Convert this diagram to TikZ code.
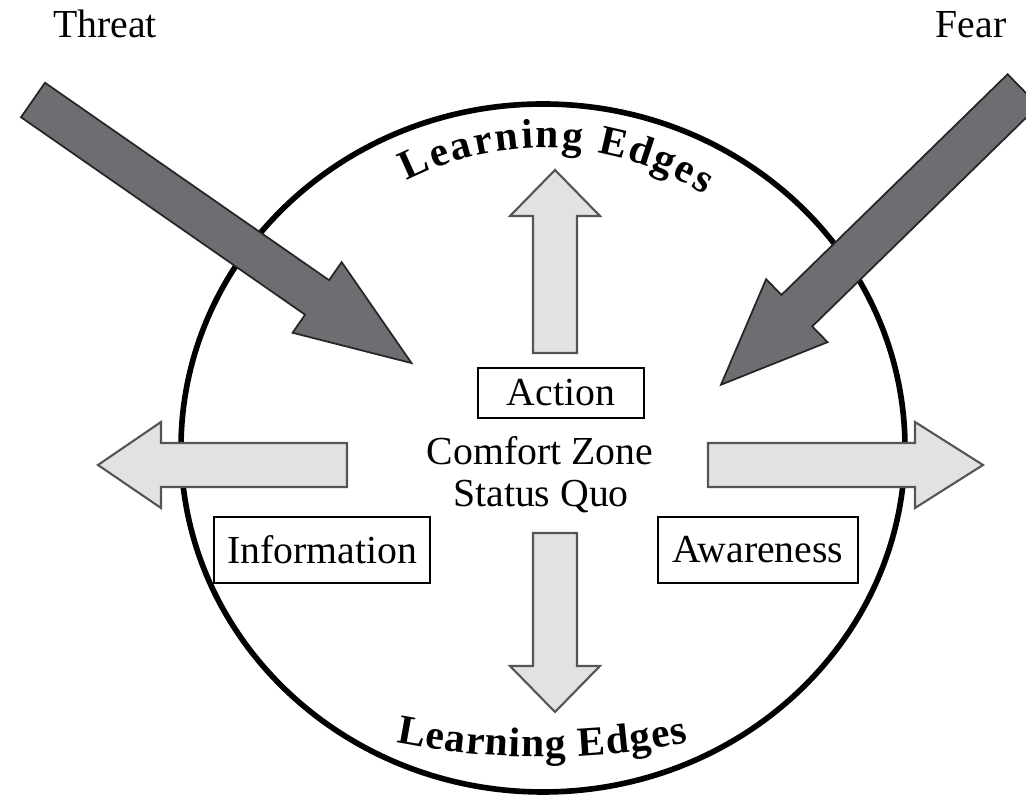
\documentclass[tikz,border=0pt]{standalone}
\usepackage{fontspec}
\setmainfont{Liberation Serif}
\usetikzlibrary{decorations.text}

\definecolor{paleGray}{RGB}{225,226,228}
\definecolor{darkGray}{RGB}{109,110,113}
\definecolor{edgeGray}{RGB}{85,85,85}

% block arrow: style, tail, angle, length, shaft half width, head half width, head length
\newcommand{\blockarrow}[7]{%
  \draw[#1, shift={#2}, rotate=#3]
    (0,-#5) -- ({#4-#7},-#5) -- ({#4-#7},-#6) -- (#4,0)
    -- ({#4-#7},#6) -- ({#4-#7},#5) -- (0,#5) -- cycle;}

\begin{document}
\begin{tikzpicture}[x=0.01cm, y=0.01cm,
  every node/.style={font=\fontsize{11.3}{12}\selectfont},
  tagbox/.style={draw, line width=0.6pt, inner sep=0pt, minimum height=0.66cm},
  ring/.style={line width=1.6pt},
  pale/.style={fill=paleGray, draw=edgeGray, line width=0.6pt},
  dark/.style={fill=darkGray, draw=black!85, line width=0.5pt},
  edgetext/.style={decorate, decoration={text along path, text align={fit to path},
    text={|\bfseries\fontsize{11.8}{14}\selectfont|Learning Edges}}}]
\clip (0,0) rectangle (1026,800);

% the comfort zone
\draw[ring] (543,352) ellipse [x radius=362, y radius=344];

% learning edges, top and bottom
\path[edgetext] (543,352) ++(117:300) arc[start angle=117, end angle=57.5, radius=300];
\path[edgetext] (541,789) ++(258.8:746) arc[start angle=258.8, end angle=281.4, radius=746];

% outward arrows
\blockarrow{pale}{(555,447)}{90}{183}{22}{45}{46}
\blockarrow{pale}{(555,267)}{-90}{179}{22}{45}{46}
\blockarrow{pale}{(347,335)}{180}{249}{22}{43}{63}
\blockarrow{pale}{(708,335)}{0}{275}{22}{43}{68}

% threat and fear pushing in
\blockarrow{dark}{(33,700)}{-34.8}{461}{21}{43}{115}
\blockarrow{dark}{(1023,710)}{-135.7}{422}{22}{44}{106}

\node[anchor=base] (threat) at (105,762) {Threat};
\node[anchor=base] (fear) at (971,762) {Fear};

\node[tagbox, minimum width=1.66cm, minimum height=0.5cm] (action) at (561,407) {Action};
\node[tagbox, minimum width=2.15cm] (info) at (322,250) {Information};
\node[tagbox, minimum width=1.99cm] (aware) at (758,250) {Awareness};

\node[anchor=base] (zone) at (540,335) {Comfort Zone};
\node[anchor=base] (quo) at (541,293) {Status Quo};
\end{tikzpicture}
\end{document}
